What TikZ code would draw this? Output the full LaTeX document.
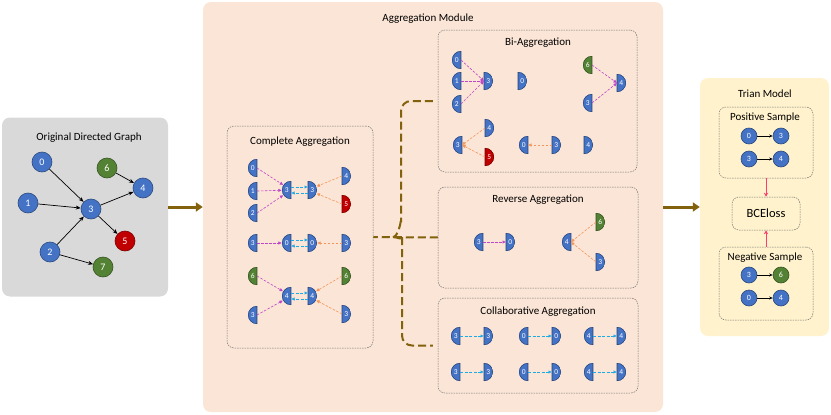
\documentclass[tikz,border=0pt]{standalone}
\usepackage{fontspec}
\setmainfont{Carlito}
\usetikzlibrary{arrows.meta,calc,positioning}
\definecolor{nblue}{RGB}{68,114,196}
\definecolor{ngreen}{RGB}{84,130,53}
\definecolor{nred}{RGB}{192,0,0}
\definecolor{origgray}{RGB}{217,217,217}
\definecolor{aggpeach}{RGB}{251,229,214}
\definecolor{trainyellow}{RGB}{255,242,204}
\definecolor{apurple}{RGB}{190,70,200}
\definecolor{aorange}{RGB}{244,150,90}
\definecolor{acyan}{RGB}{30,170,230}
\definecolor{gold}{RGB}{130,98,12}
\definecolor{apink}{RGB}{255,60,110}

\begin{document}
\begin{tikzpicture}[x=1pt,y=-1pt,font=\fontsize{11}{13}\selectfont,
 panel/.style={rounded corners=8pt,inner sep=0pt},
 box/.style={draw=black!55,dash pattern=on 1.5pt off 1pt,line width=.5pt,rounded corners=7pt,inner sep=0pt},
 gnode/.style={circle,fill=#1,draw=#1!65!black,line width=.6pt,text=white,minimum size=20pt,inner sep=0pt,font=\fontsize{10}{10}\selectfont},
 tnode/.style={gnode=#1,minimum size=16pt,font=\fontsize{8}{8}\selectfont},
 hlbl/.style={text=white,inner sep=0pt,font=\fontsize{7.5}{8}\selectfont},
 halfl/.style 2 args={circle,minimum size=18pt,inner sep=0pt,
   path picture={\fill[#1] (path picture bounding box.north) rectangle (path picture bounding box.south west);
     \draw[#1!60!black,line width=.9pt] (path picture bounding box.north) arc[start angle=90,end angle=270,radius=9pt] -- cycle;},
   label={[hlbl,xshift=-4.3pt]center:#2}},
 halfr/.style 2 args={circle,minimum size=18pt,inner sep=0pt,
   path picture={\fill[#1] (path picture bounding box.north) rectangle (path picture bounding box.south east);
     \draw[#1!60!black,line width=.9pt] (path picture bounding box.north) arc[start angle=90,end angle=-90,radius=9pt] -- cycle;},
   label={[hlbl,xshift=4.3pt]center:#2}},
 darr/.style={-{Stealth[length=5pt,width=4pt]},line width=.7pt},
 tarr/.style={-{Stealth[length=3.5pt,width=3pt]},line width=.6pt},
 parr/.style={draw=apurple,dash pattern=on 2.5pt off 1.5pt,line width=.6pt,-{Latex[length=3.5pt,width=3.5pt]}},
 oarr/.style={draw=aorange,dash pattern=on 2.5pt off 1.5pt,line width=.6pt,-{Latex[length=3.5pt,width=3.5pt]}},
 carr/.style={draw=acyan,dash pattern=on 3pt off 1.5pt,line width=.7pt,-{Latex[length=3.5pt,width=3.5pt]}},
 garr/.style={draw=gold,line width=3pt,-{Triangle[length=7pt,width=9pt]}},
 brace/.style={draw=gold,line width=2pt,dash pattern=on 8pt off 4pt},
 karr/.style={draw=apink,line width=1pt,-{Stealth[length=4pt,width=4pt]}}]
\useasboundingbox (0,0) rectangle (831,415);
% panels
\node[panel,fill=origgray,minimum width=166pt,minimum height=179pt] (orig) at (85,207) {};
\node[panel,fill=aggpeach,minimum width=460pt,minimum height=410pt] (agg) at (433,207) {};
\node[panel,fill=trainyellow,minimum width=129pt,minimum height=258pt] (train) at (764.5,207) {};
\node (origtitle) at (89,138) {Original Directed Graph};
\node (aggtitle) at (428,19) {Aggregation Module};
\node (traintitle) at (765,94) {Trian Model};
\draw[garr] (orig.east)--(agg.west);
\draw[garr] (agg.east)--(train.west);
% original graph
\node[gnode=nblue] (g0) at (42,162) {0};
\node[gnode=ngreen] (g6) at (107,168) {6};
\node[gnode=nblue] (g4) at (143,188) {4};
\node[gnode=nblue] (g1) at (28,203) {1};
\node[gnode=nblue] (g3) at (91,209) {3};
\node[gnode=nred] (g5) at (125,241) {5};
\node[gnode=nblue] (g2) at (50,252) {2};
\node[gnode=ngreen] (g7) at (103,267) {7};
\draw[darr] (g0)--(g3);
\draw[darr] (g1)--(g3);
\draw[darr] (g2)--(g3);
\draw[darr] (g3)--(g4);
\draw[darr] (g6)--(g4);
\draw[darr] (g3)--(g5);
\draw[darr] (g2)--(g7);
% sub-boxes
\node[box,minimum width=146pt,minimum height=222pt] (comp) at (300,237) {};
\node[box,minimum width=199pt,minimum height=142pt] (bi) at (537.5,101) {};
\node[box,minimum width=200pt,minimum height=101pt] (rev) at (538,237.5) {};
\node[box,minimum width=200pt,minimum height=95pt] (collab) at (538,345.5) {};
\node (comptitle) at (300,142) {Complete Aggregation};
\node (bititle) at (538,43) {Bi-Aggregation};
\node (revtitle) at (538,200) {Reverse Aggregation};
\node (collabtitle) at (538,312) {Collaborative Aggregation};
% brace
\coordinate (tip) at (393,237);
\draw[brace] (rev.west)--(comp.east);
\draw[brace,rounded corners=10pt] ([xshift=-5pt]bi.west) -| (401,228) to[out=90,in=0] (tip);
\draw[brace,rounded corners=10pt] (tip) to[out=0,in=90] (402,246) |- ([xshift=-5pt]collab.west);
% complete aggregation
\node[halfl={nblue}{0}] (ca0) at (257,168) {};
\node[halfl={nblue}{1}] (ca1) at (257,191) {};
\node[halfl={nblue}{2}] (ca2) at (257,213) {};
\node[halfl={nblue}{3}] (ml3) at (291,190) {};
\node[halfr={nblue}{3}] (mr3) at (308,190) {};
\node[halfr={nblue}{4}] (ca4) at (342,176) {};
\node[halfr={nred}{5}] (ca5) at (342,204) {};
\node[halfl={nblue}{3}] (cb3) at (257,243) {};
\node[halfl={nblue}{0}] (ml0) at (291,243) {};
\node[halfr={nblue}{0}] (mr0) at (308,243) {};
\node[halfr={nblue}{3}] (cb3r) at (342,243) {};
\node[halfl={ngreen}{6}] (cc6) at (257,276) {};
\node[halfl={nblue}{3}] (cc3) at (257,315) {};
\node[halfl={nblue}{4}] (ml4) at (291,296) {};
\node[halfr={nblue}{4}] (mr4) at (308,296) {};
\node[halfr={ngreen}{6}] (cc6r) at (342,276) {};
\node[halfr={nblue}{3}] (cc3r) at (342,314) {};
\draw[parr] (ca0.center)--(ml3);
\draw[parr] (ca1.center)--(ml3);
\draw[parr] (ca2.center)--(ml3);
\draw[parr] (cb3.center)--(ml0);
\draw[parr] (cc6.center)--(ml4);
\draw[parr] (cc3.center)--(ml4);
\draw[oarr] (ca4.center)--(mr3);
\draw[oarr] (ca5.center)--(mr3);
\draw[oarr] (cb3r.center)--(mr0);
\draw[oarr] (cc6r.center)--(mr4);
\draw[oarr] (cc3r.center)--(mr4);
\draw[carr] ([yshift=3pt]ml3.center)--([yshift=3pt]mr3.center);
\draw[carr] ([yshift=-3pt]mr3.center)--([yshift=-3pt]ml3.center);
\draw[carr] ([yshift=3pt]ml0.center)--([yshift=3pt]mr0.center);
\draw[carr] ([yshift=-3pt]mr0.center)--([yshift=-3pt]ml0.center);
\draw[carr] ([yshift=3pt]ml4.center)--([yshift=3pt]mr4.center);
\draw[carr] ([yshift=-3pt]mr4.center)--([yshift=-3pt]ml4.center);
% bi-aggregation
\node[halfl={nblue}{0}] (ba0) at (461,60) {};
\node[halfl={nblue}{1}] (ba1) at (461,81) {};
\node[halfl={nblue}{2}] (ba2) at (461,104) {};
\node[halfr={nblue}{3}] (bt3) at (484,81) {};
\node[halfr={nblue}{0}] (bz0) at (518,81) {};
\node[halfl={ngreen}{6}] (b6) at (592,65) {};
\node[halfl={nblue}{3}] (b3) at (592,103) {};
\node[halfr={nblue}{4}] (b4) at (617,83) {};
\node[halfl={nblue}{3}] (bq3) at (462,145) {};
\node[halfr={nblue}{4}] (bq4) at (485,128) {};
\node[halfr={nred}{5}] (bq5) at (485,157) {};
\node[halfl={nblue}{0}] (bw0) at (528,145) {};
\node[halfr={nblue}{3}] (bw3) at (552,145) {};
\node[halfr={nblue}{4}] (bv4) at (584,145) {};
\draw[parr] (ba0.center)--(bt3.center);
\draw[parr] (ba1.center)--(bt3.center);
\draw[parr] (ba2.center)--(bt3.center);
\draw[parr] (b6.center)--(b4.center);
\draw[parr] (b3.center)--(b4.center);
\draw[oarr] (bq4.center)--(bq3.center);
\draw[oarr] (bq5.center)--(bq3.center);
\draw[oarr] (bw3.center)--(bw0.center);
% reverse aggregation
\node[halfl={nblue}{3}] (ra3) at (483,242) {};
\node[halfr={nblue}{0}] (ra0) at (506,242) {};
\node[halfl={nblue}{4}] (ra4) at (571,242) {};
\node[halfr={ngreen}{6}] (ra6) at (596,222) {};
\node[halfr={nblue}{3}] (ra3r) at (596,262) {};
\draw[parr] (ra3.center)--(ra0.center);
\draw[oarr] (ra6.center)--(ra4.center);
\draw[oarr] (ra3r.center)--(ra4.center);
% collaborative aggregation
\node[halfl={nblue}{3}] (co3a) at (460,336) {};
\node[halfr={nblue}{3}] (co3b) at (484,336) {};
\node[halfl={nblue}{0}] (co0a) at (528,336) {};
\node[halfr={nblue}{0}] (co0b) at (552,336) {};
\node[halfl={nblue}{4}] (co4a) at (593,336) {};
\node[halfr={nblue}{4}] (co4b) at (617,336) {};
\node[halfl={nblue}{3}] (cp3a) at (460,372) {};
\node[halfr={nblue}{3}] (cp3b) at (484,372) {};
\node[halfl={nblue}{0}] (cp0a) at (528,372) {};
\node[halfr={nblue}{0}] (cp0b) at (552,372) {};
\node[halfl={nblue}{4}] (cp4a) at (593,372) {};
\node[halfr={nblue}{4}] (cp4b) at (617,372) {};
\draw[carr] (co3a.center)--(co3b.center);
\draw[carr] (co0a.center)--(co0b.center);
\draw[carr] (co4a.center)--(co4b.center);
\draw[carr] (cp3a.center)--(cp3b.center);
\draw[carr] (cp0a.center)--(cp0b.center);
\draw[carr] (cp4a.center)--(cp4b.center);
% train model
\node[box,minimum width=94pt,minimum height=71pt] (pos) at (766,142.5) {};
\node[box,minimum width=68pt,minimum height=33pt,font=\fontsize{12.5}{14}\selectfont] (bce) at (766,213.5) {BCEloss};
\node[box,minimum width=94pt,minimum height=73pt] (neg) at (766,283.5) {};
\node (postitle) at (765,118) {Positive Sample};
\node (negtitle) at (765,258) {Negative Sample};
\node[tnode=nblue] (p0) at (749,136) {0};
\node[tnode=nblue] (p3) at (781,136) {3};
\node[tnode=nblue] (p3b) at (749,159) {3};
\node[tnode=nblue] (p4) at (781,159) {4};
\node[tnode=nblue] (n3) at (749,275) {3};
\node[tnode=ngreen] (n6) at (781,275) {6};
\node[tnode=nblue] (n0) at (749,298) {0};
\node[tnode=nblue] (n4) at (781,298) {4};
\draw[tarr] (p0)--(p3);
\draw[tarr] (p3b)--(p4);
\draw[tarr] (n3)--(n6);
\draw[tarr] (n0)--(n4);
\draw[karr] (pos.south)--(bce.north);
\draw[karr] (neg.north)--(bce.south);
\end{tikzpicture}
\end{document}
